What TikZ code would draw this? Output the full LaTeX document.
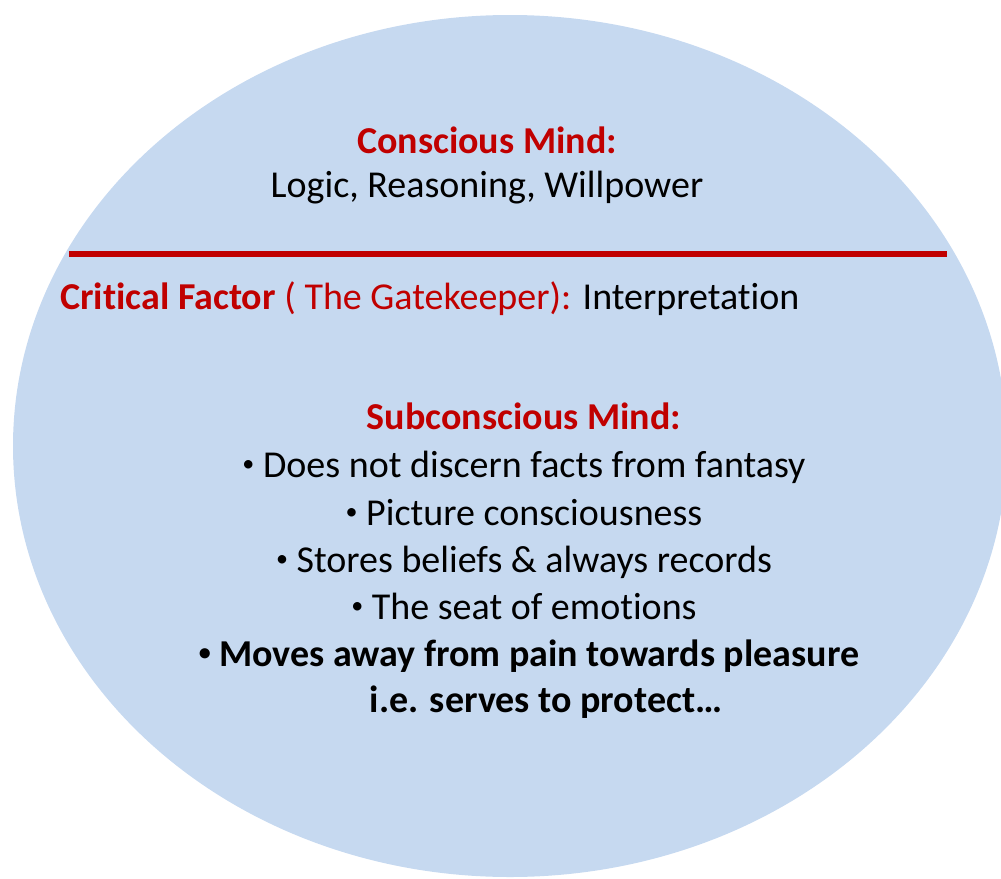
\documentclass[tikz,border=0pt]{standalone}
\usepackage{fontspec}
\setmainfont{Carlito}[Ligatures=NoCommon]
\usepackage{xcolor}
\definecolor{mindblue}{HTML}{C6D9F0}
\definecolor{mindred}{HTML}{C00000}
\newcommand{\bul}{\raisebox{0.28ex}{\fontsize{24}{24}\selectfont\textbullet}}

\begin{document}
\begin{tikzpicture}[x=1pt,y=-1pt,
  txt/.style={anchor=base,inner sep=0pt,font=\fontsize{38}{46}\selectfont},
  head/.style={txt,text=mindred,font=\fontsize{38}{46}\selectfont\bfseries}]
\useasboundingbox (0,0) rectangle (1001,878);
\fill[mindblue] (510,446) ellipse [x radius=497, y radius=431];

% Conscious
\node[head] (cons) at (487,153) {Conscious Mind:};
\node[txt] (logic) at (487,197) {Logic, Reasoning, Willpower};
\coordinate (gl) at (69,253.5);
\coordinate (gr) at (947,253.5);
\draw[mindred,line width=6] (gl) -- (gr);

% Gatekeeper
\node[txt,anchor=base west] (crit) at (60,309) {\textcolor{mindred}{\textbf{Critical Factor} ( The Gatekeeper):} Interpretation};

% Subconscious
\node[head] (sub) at (524,429) {Subconscious Mind:};
\foreach \t/\y in {Does not discern facts from fantasy/477,Picture consciousness/525,Stores beliefs \& always records/572,The seat of emotions/619} {
  \node[txt] (b\y) at (524,\y) {\bul\ \t};
}
\node[txt,font=\fontsize{38}{46}\selectfont\bfseries] (moves) at (529,666) {\bul\ Moves away from pain towards pleasure};
\node[txt,font=\fontsize{38}{46}\selectfont\bfseries] (ie) at (546,712) {i.e. serves to protect…};
\end{tikzpicture}
\end{document}
